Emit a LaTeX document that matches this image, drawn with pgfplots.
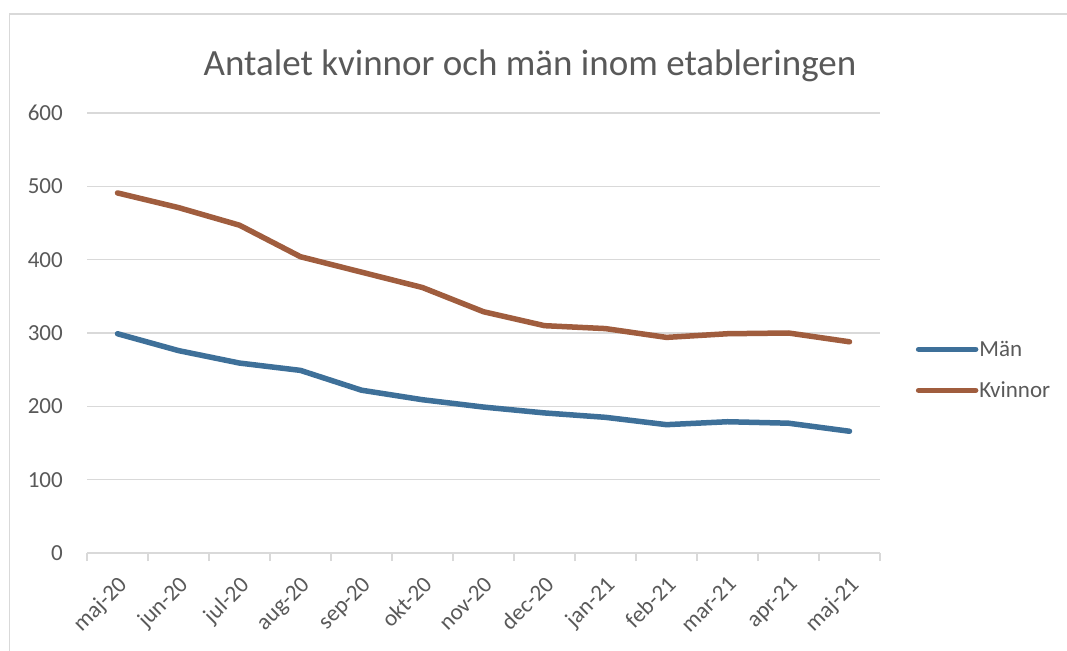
\documentclass[border=0pt]{standalone}
\usepackage{pgfplots}
\pgfplotsset{compat=1.18}
\usepackage{fontspec}
\setmainfont{Carlito}
\definecolor{manc}{RGB}{62,112,153}
\definecolor{kvic}{RGB}{160,93,62}
\definecolor{txtc}{RGB}{89,89,89}
\definecolor{gridc}{RGB}{217,217,217}
\newcommand\tickfont{\fontsize{23}{27}\selectfont}
\newcommand\titlefont{\fontsize{37}{42}\selectfont}
\begin{document}
\begin{tikzpicture}[x=1pt,y=1pt]
\useasboundingbox (0,0) rectangle (1067,650);
\fill[white] (0,0) rectangle (1067,650);
\draw[gridc, line width=1.2pt] (9.5,-10) rectangle (1090,636);
\node[anchor=base, text=txtc, font=\titlefont] at (530,574) {Antalet kvinnor och män inom etableringen};
\begin{axis}[
  at={(87pt,97pt)}, anchor=south west,
  scale only axis, width=793pt, height=440pt,
  xmin=-0.5, xmax=12.5, ymin=0, ymax=600,
  ytick={0,100,...,600},
  xtick={0,...,12},
  xticklabels={maj-20,jun-20,jul-20,aug-20,sep-20,okt-20,nov-20,dec-20,jan-21,feb-21,mar-21,apr-21,maj-21},
  extra x ticks={-0.5,0.5,...,12.5},
  extra x tick labels={},
  major tick length=0pt,
  tick align=outside,
  extra x tick style={major tick length=8pt, grid=none},
  xtick style={draw=gridc, line width=1.2pt},
  ytick style={draw=none},
  axis x line*=bottom,
  axis y line*=left,
  x axis line style={draw=gridc, line width=1.2pt, -},
  y axis line style={draw=none},
  ymajorgrids, grid style={draw=gridc, line width=1.2pt},
  /pgf/number format/assume math mode=true,
  tick label style={text=txtc, font=\tickfont},
  yticklabel style={anchor=east, inner sep=0pt, xshift=-24pt},
  xticklabel style={rotate=45, anchor=north east, inner sep=0pt, xshift=-16pt, yshift=-15pt},
  legend style={at={(1.045,0.416)}, anchor=west, draw=none, fill=none, font=\tickfont, text=txtc, row sep=22pt, inner sep=0pt, nodes={inner sep=1pt}},
  legend cell align=left,
  legend image code/.code={\draw[#1, line cap=round] (0pt,0pt) -- (57pt,0pt);},
  clip=false,
]
\addplot[manc, line width=5.5pt, line join=round, line cap=round] coordinates {
(0,299) (1,276) (2,259) (3,249) (4,222) (5,209) (6,199) (7,191) (8,185) (9,175) (10,179) (11,177) (12,166)};
\addlegendentry{Män}
\addplot[kvic, line width=5.5pt, line join=round, line cap=round] coordinates {
(0,491) (1,471) (2,447) (3,404) (4,383) (5,362) (6,329) (7,310) (8,306) (9,294) (10,299) (11,300) (12,288)};
\addlegendentry{Kvinnor}
\end{axis}
\end{tikzpicture}
\end{document}
